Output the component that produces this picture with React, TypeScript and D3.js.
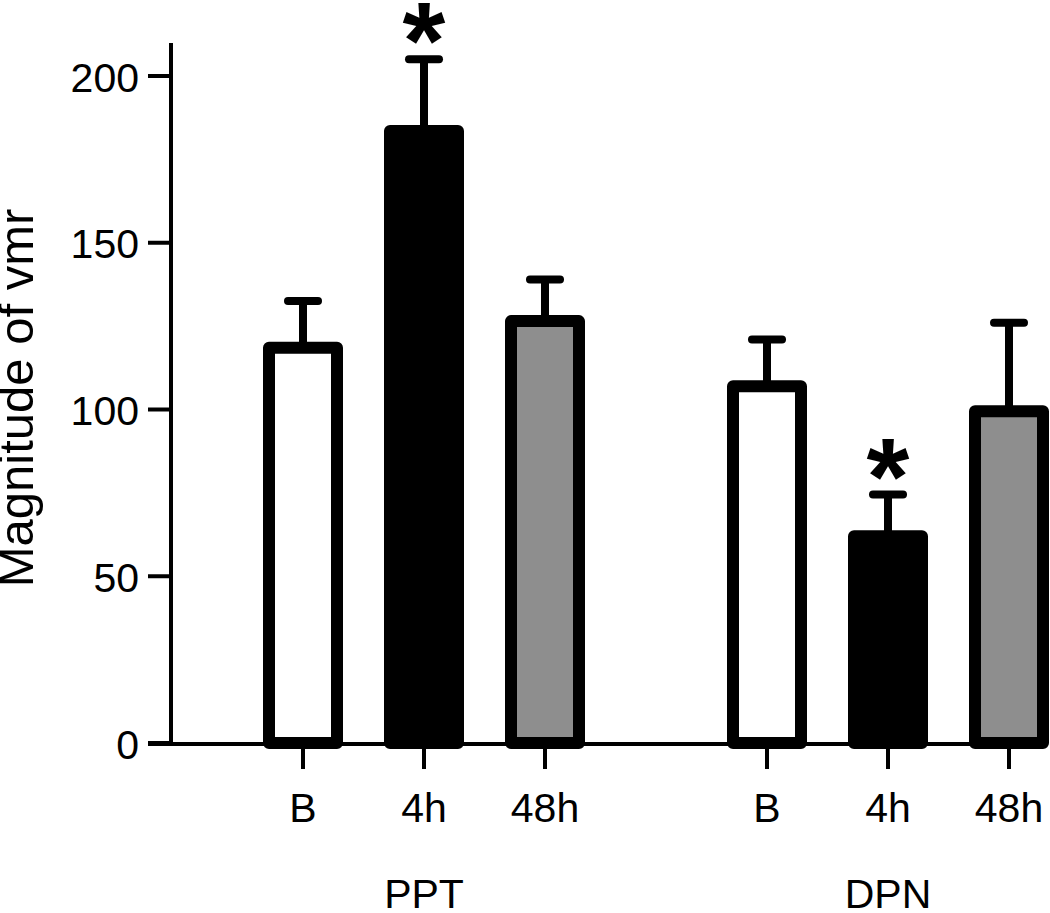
import React from 'react';
import * as d3 from 'd3';

// groups and time points
const groups = ['PPT', 'DPN'];
const conditions = ['B', '4h', '48h'];

// mean magnitude of vmr per condition, and SEM
const pptMeans = [118.5, 183.5, 126.5];
const pptSem = [14, 21.5, 12.5];
const dpnMeans = [107, 62, 99.5];
const dpnSem = [14, 12.5, 26.5];

// significance markers
const pptSig = [false, true, false];
const dpnSig = [false, true, false];

const yTicks = [0, 50, 100, 150, 200];
const fills = ['#ffffff', '#000000', '#8e8e8e'];

const width = 1050;
const height = 913;
const font = 'Liberation Sans, Arial, Helvetica, sans-serif';

export default function App() {
  const y = d3.scaleLinear().domain([0, 200]).range([743, 76]);
  const xGroup = d3.scalePoint<string>().domain(groups).range([424, 888]);
  const xInner = d3.scalePoint<string>().domain(conditions).range([-121, 121]);

  const axisX = 171;
  const axisY = y(0);
  const barW = 68;

  const series = [
    { group: 'PPT', means: pptMeans, sem: pptSem, sig: pptSig },
    { group: 'DPN', means: dpnMeans, sem: dpnSem, sig: dpnSig },
  ];

  return (
    <svg
      width={width}
      height={height}
      style={{ position: 'absolute', left: 0, top: 0, background: '#fff' }}
      fontFamily={font}
    >
      {/* bars, error bars and stars */}
      {series.map(s =>
        conditions.map((c, i) => {
          const cx = (xGroup(s.group) || 0) + (xInner(c) || 0);
          const top = y(s.means[i]);
          const errTop = y(s.means[i] + s.sem[i]);
          return (
            <g key={s.group + c}>
              <line x1={cx} x2={cx} y1={top} y2={errTop} stroke="#000" strokeWidth={8} />
              <line x1={cx - 15} x2={cx + 15} y1={errTop} y2={errTop} stroke="#000" strokeWidth={8} strokeLinecap="round" />
              <rect
                x={cx - barW / 2}
                y={top}
                width={barW}
                height={axisY - top}
                fill={fills[i]}
                stroke="#000"
                strokeWidth={12}
                strokeLinejoin="round"
              />
              {s.sig[i] && (
                <text x={cx} y={errTop + 19} textAnchor="middle" fontSize={110} fontWeight="bold">*</text>
              )}
            </g>
          );
        })
      )}

      {/* y axis */}
      <line x1={axisX} x2={axisX} y1={43} y2={axisY + 2} stroke="#000" strokeWidth={4} />
      {yTicks.map(t => (
        <g key={t}>
          <line x1={148} x2={axisX} y1={y(t)} y2={y(t)} stroke="#000" strokeWidth={4} />
          <text x={139} y={y(t)} dy="0.38em" textAnchor="end" fontSize={41}>{t}</text>
        </g>
      ))}

      {/* x axis */}
      <line x1={148} x2={1045} y1={axisY + 1} y2={axisY + 1} stroke="#000" strokeWidth={4} />
      {groups.map(g =>
        conditions.map(c => {
          const cx = (xGroup(g) || 0) + (xInner(c) || 0);
          return (
            <g key={g + c}>
              <line x1={cx} x2={cx} y1={axisY} y2={769} stroke="#000" strokeWidth={4} />
              <text x={cx} y={822} textAnchor="middle" fontSize={41}>{c}</text>
            </g>
          );
        })
      )}
      {groups.map(g => (
        <text key={g} x={xGroup(g)} y={908} textAnchor="middle" fontSize={41}>{g}</text>
      ))}

      {/* y axis title */}
      <text transform="translate(33,398) rotate(-90)" textAnchor="middle" fontSize={49}>Magnitude of vmr</text>
    </svg>
  );
}
